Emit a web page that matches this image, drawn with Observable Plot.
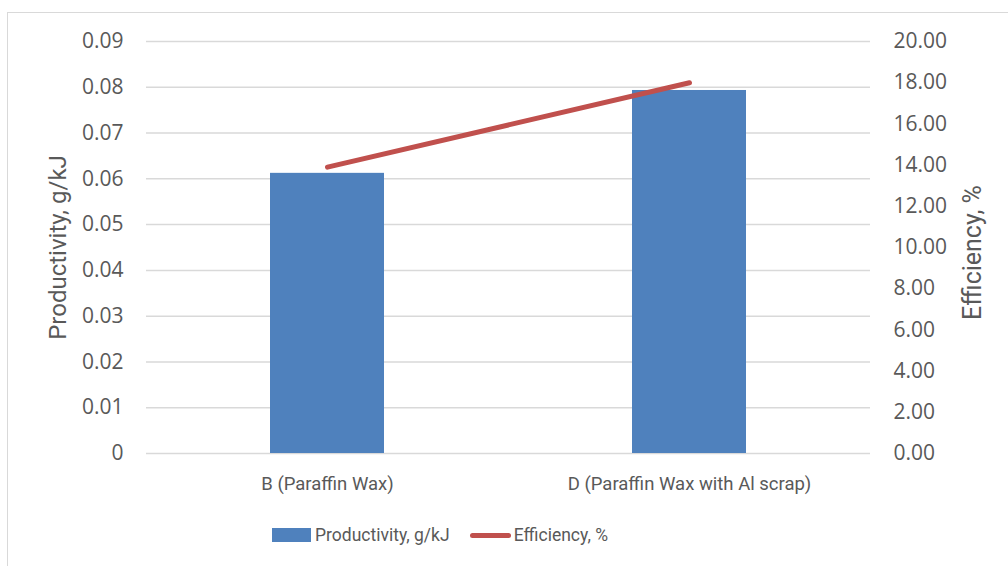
<!DOCTYPE html>
<html>
<head>
<meta charset="utf-8">
<script src="https://cdn.jsdelivr.net/npm/d3@7"></script>
<script src="https://cdn.jsdelivr.net/npm/@observablehq/plot@0.6"></script>
<style>
  body { margin: 0; background: #fff; }
  #wrap { position: relative; width: 1008px; height: 566px; overflow: hidden; font-family: Roboto, "Open Sans", sans-serif; color: #595959; }
  #frame { position: absolute; left: 7px; top: 12px; width: 1100px; height: 700px; border: 1.5px solid #d9d9d9; box-sizing: border-box; }
  #legend { position: absolute; top: 525px; left: 272px; display: flex; align-items: center; font-size: 17.5px; white-space: nowrap; }
  .sw-bar { width: 39px; height: 14px; background: #4f81bd; margin-right: 4px; }
  .sw-line { width: 41px; height: 5px; border-radius: 3px; background: #c0504d; margin-left: 20px; margin-right: 3px; }
  .num text { font-family: "Open Sans", sans-serif; }
</style>
</head>
<body>
<div id="wrap">
  <div id="frame"></div>
  <div id="chart"></div>
  <div id="legend">
    <div class="sw-bar"></div><span>Productivity, g/kJ</span>
    <div class="sw-line"></div><span>Efficiency, %</span>
  </div>
</div>
<script>
const categories = ["B (Paraffin Wax)", "D (Paraffin Wax with Al scrap)"];
const productivity = [0.0612, 0.0793];
const efficiency = [13.9, 18.0];
const leftTicks = [0, 0.01, 0.02, 0.03, 0.04, 0.05, 0.06, 0.07, 0.08, 0.09];
const rightTicks = [0, 2, 4, 6, 8, 10, 12, 14, 16, 18, 20];

const leftMax = 0.09, rightMax = 20;
const toLeft = v => v * leftMax / rightMax;
const data = categories.map((c, i) => ({cat: c, prod: productivity[i], eff: efficiency[i]}));

const textColor = "#595959";
const chart = Plot.plot({
  width: 1008,
  height: 566,
  marginLeft: 146,
  marginRight: 138,
  marginTop: 41,
  marginBottom: 113,
  style: {fontFamily: "Roboto, 'Open Sans', sans-serif", fontSize: "17px", color: textColor, background: "transparent"},
  x: {domain: categories, paddingInner: 0.685, paddingOuter: 0.3425, label: null},
  y: {domain: [0, leftMax], label: null},
  marks: [
    Plot.gridY(leftTicks, {stroke: "#d9d9d9", strokeOpacity: 1, strokeWidth: 1.5}),
    Plot.barY(data, {x: "cat", y: "prod", fill: "#4f81bd"}),
    Plot.line(data, {x: "cat", y: d => toLeft(d.eff), stroke: "#c0504d", strokeWidth: 5, strokeLinecap: "round"}),
    Plot.axisY(leftTicks, {anchor: "left", tickSize: 0, tickPadding: 23, fontSize: 21, fill: textColor, className: "num",
      tickFormat: d => d === 0 ? "0" : d.toFixed(2), label: null}),
    Plot.axisY(rightTicks.map(toLeft), {anchor: "right", tickSize: 0, tickPadding: 23, fontSize: 21, fill: textColor, className: "num",
      tickFormat: d => (d * rightMax / leftMax).toFixed(2), label: null}),
    Plot.axisX({tickSize: 0, tickPadding: 23, fontSize: 18.5, fill: textColor, label: null}),
    Plot.text(["Productivity, g/kJ"], {frameAnchor: "left", dx: -88, rotate: -90, textAnchor: "middle", fontSize: 24, fill: textColor}),
    Plot.text(["Efficiency, %"], {frameAnchor: "right", dx: 102, dy: 5, rotate: -90, textAnchor: "middle", fontSize: 25, fill: textColor})
  ]
});
document.getElementById("chart").appendChild(chart);
</script>
</body>
</html>
